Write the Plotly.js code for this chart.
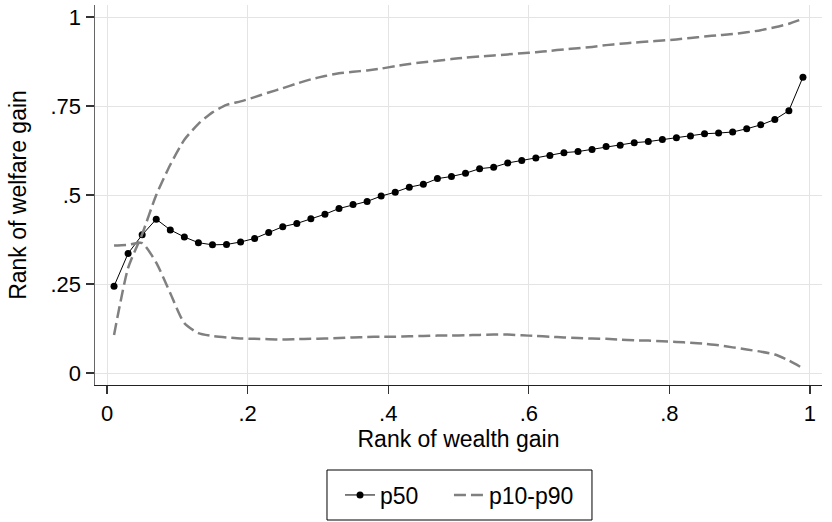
<!DOCTYPE html>
<html>
<head>
<meta charset="utf-8">
<script src="https://cdn.plot.ly/plotly-3.0.1.min.js"></script>
<style>html,body{margin:0;padding:0;background:#fff;}#chart{width:832px;height:522px;}</style>
</head>
<body>
<div id="chart"></div>
<script>
// Rank of wealth gain (x positions of the 50 bins)
const rankWealth = [0.01,0.03,0.05,0.07,0.09,0.11,0.13,0.15,0.17,0.19,
  0.21,0.23,0.25,0.27,0.29,0.31,0.33,0.35,0.37,0.39,
  0.41,0.43,0.45,0.47,0.49,0.51,0.53,0.55,0.57,0.59,
  0.61,0.63,0.65,0.67,0.69,0.71,0.73,0.75,0.77,0.79,
  0.81,0.83,0.85,0.87,0.89,0.91,0.93,0.95,0.97,0.99];

// Median rank of welfare gain
const p50 = [0.244,0.336,0.388,0.432,0.402,0.382,0.366,0.360,0.361,0.368,
  0.378,0.395,0.411,0.420,0.433,0.446,0.462,0.473,0.482,0.497,
  0.508,0.522,0.530,0.546,0.552,0.561,0.574,0.578,0.590,0.597,
  0.604,0.611,0.619,0.622,0.628,0.636,0.640,0.647,0.650,0.656,
  0.661,0.666,0.672,0.674,0.677,0.686,0.697,0.712,0.737,0.831];

// 10th percentile
const p10 = [0.358,0.360,0.365,0.310,0.224,0.140,0.112,0.104,0.100,0.097,
  0.096,0.095,0.094,0.095,0.096,0.097,0.098,0.100,0.101,0.102,
  0.102,0.103,0.104,0.105,0.105,0.106,0.107,0.108,0.108,0.106,
  0.104,0.102,0.100,0.098,0.097,0.096,0.094,0.092,0.091,0.089,
  0.087,0.085,0.082,0.078,0.072,0.066,0.060,0.052,0.035,0.013];

// 90th percentile
const p90 = [0.107,0.295,0.390,0.500,0.585,0.655,0.700,0.732,0.753,0.763,
  0.775,0.788,0.800,0.813,0.825,0.834,0.842,0.846,0.850,0.855,
  0.862,0.868,0.873,0.877,0.882,0.886,0.889,0.892,0.895,0.898,
  0.901,0.905,0.909,0.912,0.916,0.921,0.925,0.928,0.931,0.934,
  0.937,0.941,0.945,0.949,0.952,0.957,0.963,0.971,0.981,0.995];

const xTickVals = [0,0.2,0.4,0.6,0.8,1];
const xTickText = ["0",".2",".4",".6",".8","1"];
const yTickVals = [0,0.25,0.5,0.75,1];
const yTickText = ["0",".25",".5",".75","1"];

const font = "Liberation Sans, Arial, Helvetica, sans-serif";
const grey = "rgb(128,128,128)";
const pad = "\u00a0\u00a0\u00a0\u00a0";

const traces = [
  {x: rankWealth, y: p50, type: "scatter", mode: "lines+markers", name: "p50" + pad,
   line: {color: "black", width: 1}, marker: {color: "black", size: 7}},
  {x: rankWealth, y: p10, type: "scatter", mode: "lines", name: "p10-p90",
   legendgroup: "pp", line: {color: grey, width: 2.5, dash: "12px,5px", shape: "spline", smoothing: 0.6}},
  {x: rankWealth, y: p90, type: "scatter", mode: "lines", name: "p10-p90",
   legendgroup: "pp", showlegend: false, line: {color: grey, width: 2.5, dash: "12px,5px", shape: "spline", smoothing: 0.6}}
];

const layout = {
  width: 832, height: 522,
  margin: {l: 95, r: 10, t: 5, b: 137},
  paper_bgcolor: "white", plot_bgcolor: "white",
  font: {family: font, size: 23, color: "black"},
  showlegend: true,
  xaxis: {
    range: [-0.0171, 1.0171], tickvals: xTickVals, ticktext: xTickText,
    showgrid: true, gridcolor: "#e4e4e4", gridwidth: 1, zeroline: false,
    showline: true, linecolor: "#222", linewidth: 1.2,
    ticks: "outside", ticklen: 8, tickcolor: "#333", tickwidth: 1.2,
    tickfont: {size: 22, family: font},
    title: {text: "Rank of wealth gain", font: {size: 23, family: font}, standoff: 6}
  },
  yaxis: {
    range: [-0.0337, 1.0337], tickvals: yTickVals, ticktext: yTickText,
    showgrid: true, gridcolor: "#e4e4e4", gridwidth: 1, zeroline: false,
    showline: true, linecolor: "#666", linewidth: 1.5,
    ticks: "outside", ticklen: 8, tickcolor: "#333", tickwidth: 1.2,
    tickfont: {size: 22, family: font},
    title: {text: "Rank of welfare gain", font: {size: 23, family: font}, standoff: 17}
  },
  legend: {
    orientation: "h", x: 0.5014, xanchor: "center", y: -0.2895, yanchor: "middle",
    borderwidth: 0, bgcolor: "rgba(0,0,0,0)",
    font: {size: 23, family: font}, itemwidth: 30, tracegroupgap: 0
  },
  shapes: [
    {type: "rect", xref: "paper", yref: "paper", x0: 0.3191, x1: 0.6836, y0: -0.2237, y1: -0.3553,
     line: {color: "black", width: 1}, fillcolor: "rgba(0,0,0,0)"}
  ]
};

Plotly.newPlot("chart", traces, layout, {displayModeBar: false, staticPlot: true});
</script>
</body>
</html>
